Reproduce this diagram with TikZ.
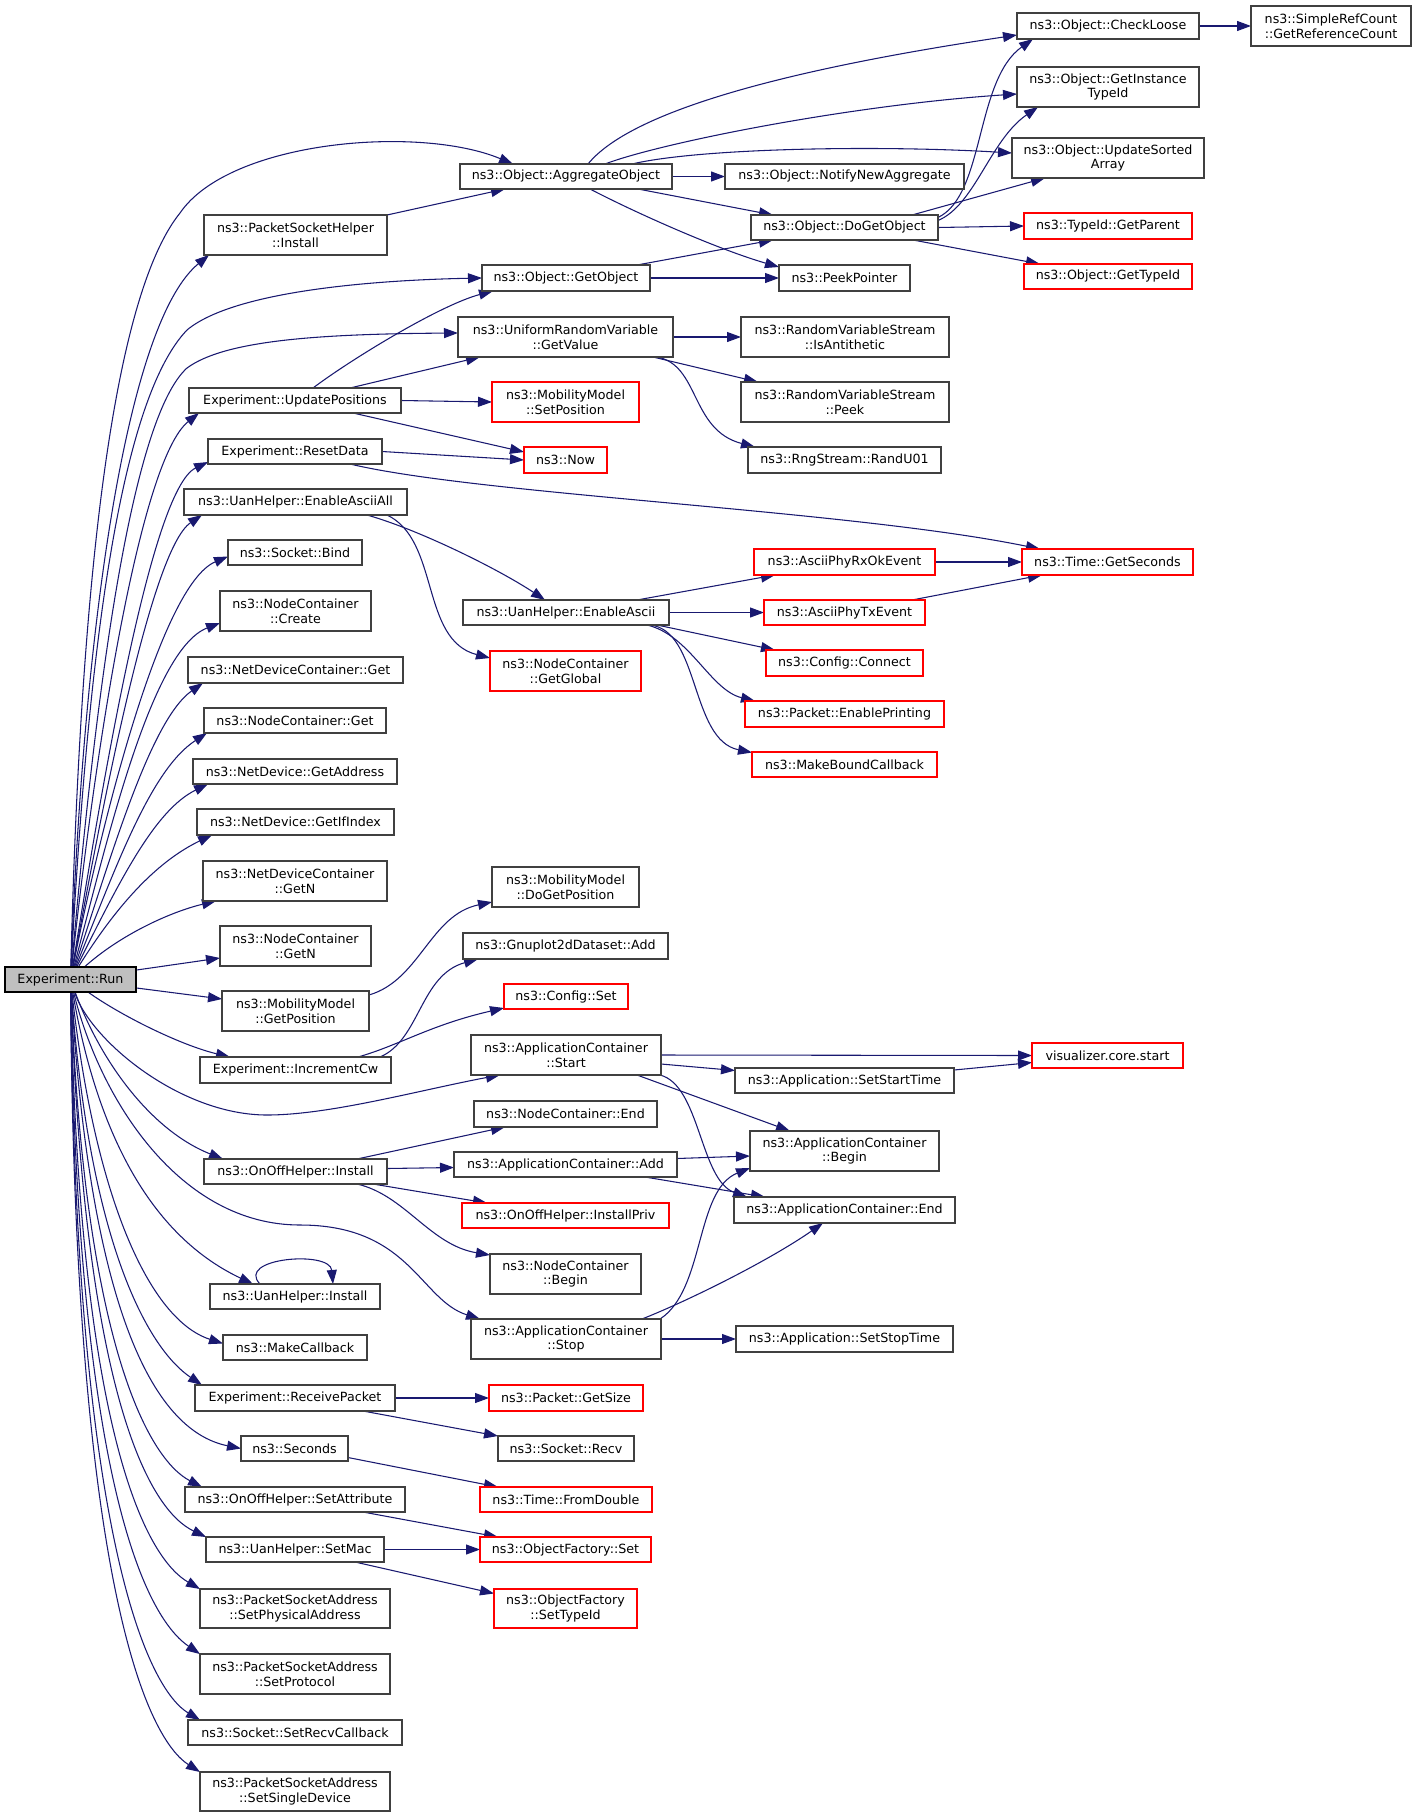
\documentclass[tikz,border=0pt]{standalone}
\usepackage{fontspec}
\usetikzlibrary{arrows.meta,calc}
\newfontfamily\dvsans{DejaVu Sans}
\definecolor{edgeblue}{HTML}{191970}
\definecolor{boxgray}{HTML}{404040}
\definecolor{rootfill}{HTML}{BFBFBF}
\pgfdeclarelayer{bg}
\pgfsetlayers{bg,main}
\tikzset{
  fn/.style={draw=boxgray, line width=0.8pt, fill=white, inner sep=0pt, outer sep=0pt,
    align=center, text=black, font=\dvsans\fontsize{9.5}{11}\selectfont},
  fnr/.style={fn, draw=red},
  fnroot/.style={fn, draw=black, fill=rootfill},
  e/.style={draw=edgeblue, line width=0.8pt, -{Triangle[length=10.5pt,width=7.5pt]}},
}
\newcommand\mknode[7]{\node[#1, minimum width={(#5-#3)*0.75pt}, minimum height={(#6-#4)*0.75pt}] (#2) at ({(#3+#5)/2},{(#4+#6)/2}) {#7};}
\begin{document}
\begin{tikzpicture}[x=0.75pt,y=-0.75pt]
\useasboundingbox (0,0) rectangle (1416,1817);
% column 1/2
\mknode{fnroot}{run}{5}{967}{136}{992}{Experiment::Run}
\mknode{fn}{psh}{204}{215}{387}{255}{ns3::PacketSocketHelper\\::Install}
\mknode{fn}{updpos}{189}{388}{401}{413}{Experiment::UpdatePositions}
\mknode{fn}{reset}{208}{439}{382}{464}{Experiment::ResetData}
\mknode{fn}{eaa}{184}{489}{407}{515}{ns3::UanHelper::EnableAsciiAll}
\mknode{fn}{bind}{228}{540}{362}{565}{ns3::Socket::Bind}
\mknode{fn}{nccreate}{220}{591}{371}{631}{ns3::NodeContainer\\::Create}
\mknode{fn}{ndcget}{188}{657}{403}{683}{ns3::NetDeviceContainer::Get}
\mknode{fn}{ncget}{204}{708}{386}{733}{ns3::NodeContainer::Get}
\mknode{fn}{getaddr}{193}{759}{397}{784}{ns3::NetDevice::GetAddress}
\mknode{fn}{getifidx}{197}{809}{394}{835}{ns3::NetDevice::GetIfIndex}
\mknode{fn}{ndcgetn}{203}{861}{387}{901}{ns3::NetDeviceContainer\\::GetN}
\mknode{fn}{ncgetn}{220}{926}{371}{966}{ns3::NodeContainer\\::GetN}
\mknode{fn}{getpos}{222}{991}{369}{1031}{ns3::MobilityModel\\::GetPosition}
\mknode{fn}{inccw}{200}{1057}{391}{1083}{Experiment::IncrementCw}
\mknode{fn}{onoffinst}{204}{1159}{387}{1184}{ns3::OnOffHelper::Install}
\mknode{fn}{uaninst}{210}{1284}{380}{1309}{ns3::UanHelper::Install}
\mknode{fn}{mkcb}{223}{1335}{367}{1360}{ns3::MakeCallback}
\mknode{fn}{recvpkt}{195}{1385}{395}{1411}{Experiment::ReceivePacket}
\mknode{fn}{seconds}{241}{1436}{348}{1461}{ns3::Seconds}
\mknode{fn}{setattr}{185}{1487}{405}{1512}{ns3::OnOffHelper::SetAttribute}
\mknode{fn}{setmac}{206}{1537}{384}{1562}{ns3::UanHelper::SetMac}
\mknode{fn}{setphys}{200}{1589}{390}{1628}{ns3::PacketSocketAddress\\::SetPhysicalAddress}
\mknode{fn}{setproto}{200}{1654}{390}{1694}{ns3::PacketSocketAddress\\::SetProtocol}
\mknode{fn}{setrecvcb}{188}{1720}{402}{1745}{ns3::Socket::SetRecvCallback}
\mknode{fn}{setsingle}{200}{1772}{390}{1811}{ns3::PacketSocketAddress\\::SetSingleDevice}
% column 3
\mknode{fn}{aggr}{460}{164}{672}{189}{ns3::Object::AggregateObject}
\mknode{fn}{getobj}{482}{265}{650}{291}{ns3::Object::GetObject}
\mknode{fn}{urv}{458}{317}{673}{357}{ns3::UniformRandomVariable\\::GetValue}
\mknode{fnr}{setposition}{492}{382}{639}{422}{ns3::MobilityModel\\::SetPosition}
\mknode{fnr}{now}{524}{447}{607}{473}{ns3::Now}
\mknode{fn}{ea}{463}{600}{669}{625}{ns3::UanHelper::EnableAscii}
\mknode{fnr}{getglobal}{490}{651}{641}{691}{ns3::NodeContainer\\::GetGlobal}
\mknode{fn}{dogetpos}{492}{867}{639}{907}{ns3::MobilityModel\\::DoGetPosition}
\mknode{fn}{gnuplot}{463}{933}{668}{959}{ns3::Gnuplot2dDataset::Add}
\mknode{fnr}{cfgset}{504}{984}{628}{1009}{ns3::Config::Set}
\mknode{fn}{appstart}{471}{1035}{661}{1075}{ns3::ApplicationContainer\\::Start}
\mknode{fn}{ncend}{474}{1101}{657}{1127}{ns3::NodeContainer::End}
\mknode{fn}{appadd}{454}{1152}{677}{1177}{ns3::ApplicationContainer::Add}
\mknode{fnr}{installpriv}{462}{1203}{669}{1228}{ns3::OnOffHelper::InstallPriv}
\mknode{fn}{ncbegin}{490}{1254}{641}{1294}{ns3::NodeContainer\\::Begin}
\mknode{fn}{appstop}{471}{1319}{661}{1359}{ns3::ApplicationContainer\\::Stop}
\mknode{fnr}{getsize}{489}{1385}{643}{1411}{ns3::Packet::GetSize}
\mknode{fn}{recv}{498}{1436}{634}{1461}{ns3::Socket::Recv}
\mknode{fnr}{fromdouble}{480}{1487}{652}{1512}{ns3::Time::FromDouble}
\mknode{fnr}{ofset}{480}{1537}{651}{1562}{ns3::ObjectFactory::Set}
\mknode{fnr}{settypeid}{494}{1589}{637}{1628}{ns3::ObjectFactory\\::SetTypeId}
% column 4
\mknode{fn}{notify}{725}{164}{964}{189}{ns3::Object::NotifyNewAggregate}
\mknode{fn}{dogetobj}{751}{215}{938}{240}{ns3::Object::DoGetObject}
\mknode{fn}{peek}{779}{265}{910}{291}{ns3::PeekPointer}
\mknode{fn}{isanti}{741}{317}{949}{357}{ns3::RandomVariableStream\\::IsAntithetic}
\mknode{fn}{rvpeek}{741}{382}{949}{422}{ns3::RandomVariableStream\\::Peek}
\mknode{fn}{randu01}{748}{447}{941}{473}{ns3::RngStream::RandU01}
\mknode{fnr}{rxok}{754}{549}{935}{575}{ns3::AsciiPhyRxOkEvent}
\mknode{fnr}{txev}{764}{600}{925}{625}{ns3::AsciiPhyTxEvent}
\mknode{fnr}{connect}{766}{650}{923}{676}{ns3::Config::Connect}
\mknode{fnr}{enprint}{745}{701}{944}{727}{ns3::Packet::EnablePrinting}
\mknode{fnr}{mkbound}{752}{752}{937}{777}{ns3::MakeBoundCallback}
\mknode{fn}{setstart}{735}{1068}{954}{1093}{ns3::Application::SetStartTime}
\mknode{fn}{appbegin}{750}{1131}{939}{1171}{ns3::ApplicationContainer\\::Begin}
\mknode{fn}{append}{734}{1197}{955}{1223}{ns3::ApplicationContainer::End}
\mknode{fn}{setstop}{736}{1326}{953}{1352}{ns3::Application::SetStopTime}
% column 5
\mknode{fn}{checkloose}{1017}{13}{1199}{39}{ns3::Object::CheckLoose}
\mknode{fn}{getinst}{1017}{67}{1199}{107}{ns3::Object::GetInstance\\TypeId}
\mknode{fn}{updsorted}{1012}{138}{1204}{178}{ns3::Object::UpdateSorted\\Array}
\mknode{fnr}{getparent}{1024}{213}{1192}{239}{ns3::TypeId::GetParent}
\mknode{fnr}{gettypeid}{1024}{264}{1192}{289}{ns3::Object::GetTypeId}
\mknode{fnr}{getsec}{1022}{549}{1193}{575}{ns3::Time::GetSeconds}
\mknode{fnr}{visual}{1032}{1043}{1183}{1068}{visualizer.core.start}
\mknode{fn}{refcount}{1251}{6}{1411}{46}{ns3::SimpleRefCount\\::GetReferenceCount}

\begin{pgfonlayer}{bg}
% edges from Experiment::Run
\draw[e] (run) .. controls (80,600) and (110,300) .. (180,213) .. controls (230,140) and (420,125) .. ($(aggr.north west)+(53,0)$);
\draw[e] (run) .. controls (85,600) and (130,320) .. ($(psh.south west)+(5,0)$);
\draw[e] (run) .. controls (88,650) and (120,400) .. (187,330) .. controls (235,290) and (380,280) .. (getobj.west);
\draw[e] (run) .. controls (95,700) and (130,420) .. (187,368) .. controls (225,340) and (320,334) .. ($(urv.west)+(0,-4)$);
\draw[e] (run) .. controls (95,750) and (140,460) .. ($(updpos.south west)+(10,0)$);
\draw[e] (run) .. controls (100,800) and (150,490) .. ($(reset.south west)+(0,-2)$);
\draw[e] (run) .. controls (100,820) and (150,550) .. ($(eaa.south west)+(18,0)$);
\draw[e] (run) .. controls (100,830) and (160,585) .. ($(bind.west)+(0,4)$);
\draw[e] (run) .. controls (105,850) and (150,650) .. ($(nccreate.west)+(0,12)$);
\draw[e] (run) .. controls (110,860) and (150,720) .. ($(ndcget.south west)+(15,0)$);
\draw[e] (run) .. controls (115,870) and (150,770) .. ($(ncget.south west)+(3,0)$);
\draw[e] (run) .. controls (120,880) and (155,810) .. ($(getaddr.south west)+(15,0)$);
\draw[e] (run) .. controls (120,900) and (160,860) .. ($(getifidx.south west)+(15,0)$);
\draw[e] (run) .. controls (120,935) and (170,912) .. ($(ndcgetn.south west)+(13,0)$);
\draw[e] (run) -- ($(ncgetn.west)+(0,12)$);
\draw[e] (run) -- ($(getpos.west)+(0,-12)$);
\draw[e] (run) .. controls (120,1015) and (180,1045) .. ($(inccw.north west)+(30,0)$);
\draw[e] (run) .. controls (90,1040) and (180,1115) .. (267,1115) .. controls (330,1115) and (420,1090) .. ($(appstart.south west)+(29,0)$);
\draw[e] (run) .. controls (100,1060) and (150,1130) .. ($(onoffinst.north west)+(19,0)$);
\draw[e] (run) .. controls (100,1100) and (180,1225) .. (300,1225) .. controls (410,1225) and (420,1300) .. ($(appstop.north west)+(9,0)$);
\draw[e] (run) .. controls (100,1150) and (160,1240) .. ($(uaninst.north west)+(43,0)$);
\draw[e] (run) .. controls (95,1200) and (150,1320) .. ($(mkcb.west)+(0,-4)$);
\draw[e] (run) .. controls (90,1250) and (150,1350) .. ($(recvpkt.north west)+(7,0)$);
\draw[e] (run) .. controls (90,1300) and (150,1430) .. (seconds.west);
\draw[e] (run) .. controls (85,1350) and (150,1460) .. ($(setattr.north west)+(17,0)$);
\draw[e] (run) .. controls (85,1400) and (150,1510) .. (setmac.north west);
\draw[e] (run) .. controls (80,1450) and (150,1560) .. (setphys.north west);
\draw[e] (run) .. controls (78,1500) and (150,1620) .. (setproto.north west);
\draw[e] (run) .. controls (76,1550) and (150,1690) .. ($(setrecvcb.north west)+(12,0)$);
\draw[e] (run) .. controls (75,1600) and (150,1740) .. (setsingle.north west);
% other edges
\draw[e] (psh.north east) -- ($(aggr.south west)+(45,0)$);
\draw[e] ($(aggr.north west)+(128,0)$) .. controls (640,100) and (850,60) .. ($(checkloose.west)+(0,9)$);
\draw[e] ($(aggr.north west)+(145,0)$) .. controls (660,143) and (850,105) .. ($(getinst.west)+(0,7)$);
\draw[e] ($(aggr.north west)+(172,0)$) .. controls (700,148) and (880,145) .. ($(updsorted.west)+(0,-5)$);
\draw[e] (aggr.east) -- (notify.west);
\draw[e] ($(aggr.south west)+(178,0)$) -- ($(dogetobj.north west)+(22,0)$);
\draw[e] ($(aggr.south west)+(130,0)$) .. controls (640,215) and (720,250) .. ($(peek.north west)+(0,2)$);
\draw[e] ($(getobj.north west)+(155,0)$) -- ($(dogetobj.south west)+(22,0)$);
\draw[e] (getobj.east) -- (peek.west);
\draw[e] ($(dogetobj.east)+(0,-10)$) .. controls (985,195) and (975,80) .. ($(checkloose.south west)+(16,0)$);
\draw[e] ($(dogetobj.east)+(0,-7)$) .. controls (975,205) and (990,140) .. ($(getinst.south west)+(21,0)$);
\draw[e] ($(dogetobj.north east)+(-26,0)$) -- ($(updsorted.south west)+(33,0)$);
\draw[e] (dogetobj.east) -- (getparent.west);
\draw[e] ($(dogetobj.south east)+(-25,0)$) -- ($(gettypeid.north west)+(16,0)$);
\draw[e] (checkloose.east) -- (refcount.west);
\draw[e] (urv.east) -- (isanti.west);
\draw[e] ($(urv.south east)+(-20,0)$) -- ($(rvpeek.north west)+(17,0)$);
\draw[e] ($(urv.south east)+(-16,0)$) .. controls (700,365) and (690,430) .. ($(randu01.north west)+(7,0)$);
\draw[e] ($(updpos.north west)+(124,0)$) .. controls (350,360) and (440,305) .. ($(getobj.south west)+(11,0)$);
\draw[e] ($(updpos.north west)+(161,0)$) -- ($(urv.south west)+(22,0)$);
\draw[e] (updpos.east) -- (setposition.west);
\draw[e] ($(updpos.south west)+(164,0)$) -- ($(now.west)+(0,-8)$);
\draw[e] (reset.east) -- (now.west);
\draw[e] ($(reset.south west)+(142,0)$) .. controls (480,495) and (850,510) .. ($(getsec.north west)+(18,0)$);
\draw[e] ($(eaa.south west)+(183,0)$) .. controls (420,530) and (500,570) .. ($(ea.north west)+(82,0)$);
\draw[e] ($(eaa.south west)+(203,0)$) .. controls (440,540) and (420,640) .. ($(getglobal.west)+(0,-13)$);
\draw[e] ($(ea.north west)+(174,0)$) -- ($(rxok.south west)+(21,0)$);
\draw[e] (ea.east) -- (txev.west);
\draw[e] ($(ea.south east)+(-12,0)$) -- ($(connect.north west)+(9,0)$);
\draw[e] ($(ea.south east)+(-22,0)$) .. controls (690,635) and (710,690) .. ($(enprint.north west)+(10,0)$);
\draw[e] ($(ea.south east)+(-19,0)$) .. controls (700,630) and (690,740) .. ($(mkbound.west)+(0,-12)$);
\draw[e] (rxok.east) -- (getsec.west);
\draw[e] ($(txev.north east)+(-13,0)$) -- ($(getsec.south west)+(20,0)$);
\draw[e] ($(getpos.east)+(0,-16)$) .. controls (420,980) and (430,915) .. ($(dogetpos.south west)+(0,-5)$);
\draw[e] ($(inccw.north east)+(-11,0)$) .. controls (420,1040) and (420,975) .. ($(gnuplot.south west)+(15,0)$);
\draw[e] ($(inccw.north east)+(-33,0)$) .. controls (400,1045) and (430,1025) .. ($(cfgset.south west)+(0,-1)$);
\draw[e] (appstart.east) -- (visual.west);
\draw[e] ($(appstart.east)+(0,9)$) -- ($(setstart.west)+(0,-10)$);
\draw[e] ($(appstart.south east)+(-24,0)$) -- ($(appbegin.north west)+(40,0)$);
\draw[e] ($(appstart.south east)+(-1,0)$) .. controls (700,1085) and (700,1180) .. ($(append.north west)+(13,0)$);
\draw[e] ($(setstart.north east)+(0,2)$) -- ($(visual.west)+(0,7)$);
\draw[e] ($(onoffinst.north west)+(153,0)$) -- ($(ncend.south west)+(31,0)$);
\draw[e] ($(onoffinst.east)+(0,-3)$) -- ($(appadd.west)+(0,3)$);
\draw[e] ($(onoffinst.south east)+(-14,0)$) -- ($(installpriv.north west)+(25,0)$);
\draw[e] ($(onoffinst.south west)+(153,0)$) .. controls (405,1195) and (430,1245) .. ($(ncbegin.north west)+(0,1)$);
\draw[e] ($(appadd.east)+(0,-6)$) -- ($(appbegin.west)+(0,5)$);
\draw[e] ($(appadd.south east)+(-32,0)$) -- ($(append.north west)+(31,0)$);
\draw[e] ($(appstop.north east)+(-1,0)$) .. controls (705,1290) and (695,1190) .. ($(appbegin.west)+(0,17)$);
\draw[e] ($(appstop.north east)+(-19,0)$) .. controls (690,1300) and (770,1260) .. ($(append.south west)+(89,0)$);
\draw[e] (appstop.east) -- (setstop.west);
\draw[e] ($(uaninst.north west)+(50,0)$) .. controls (235,1258) and (330,1250) .. ($(uaninst.north west)+(123,0)$);
\draw[e] (recvpkt.east) -- (getsize.west);
\draw[e] ($(recvpkt.south east)+(-32,0)$) -- (recv.north west);
\draw[e] ($(seconds.east)+(0,9)$) -- ($(fromdouble.north west)+(18,0)$);
\draw[e] ($(setattr.south east)+(-42,0)$) -- ($(ofset.north west)+(18,0)$);
\draw[e] (setmac.east) -- (ofset.west);
\draw[e] ($(setmac.south east)+(-29,0)$) -- ($(settypeid.west)+(0,-15)$);
\end{pgfonlayer}
\end{tikzpicture}
\end{document}
